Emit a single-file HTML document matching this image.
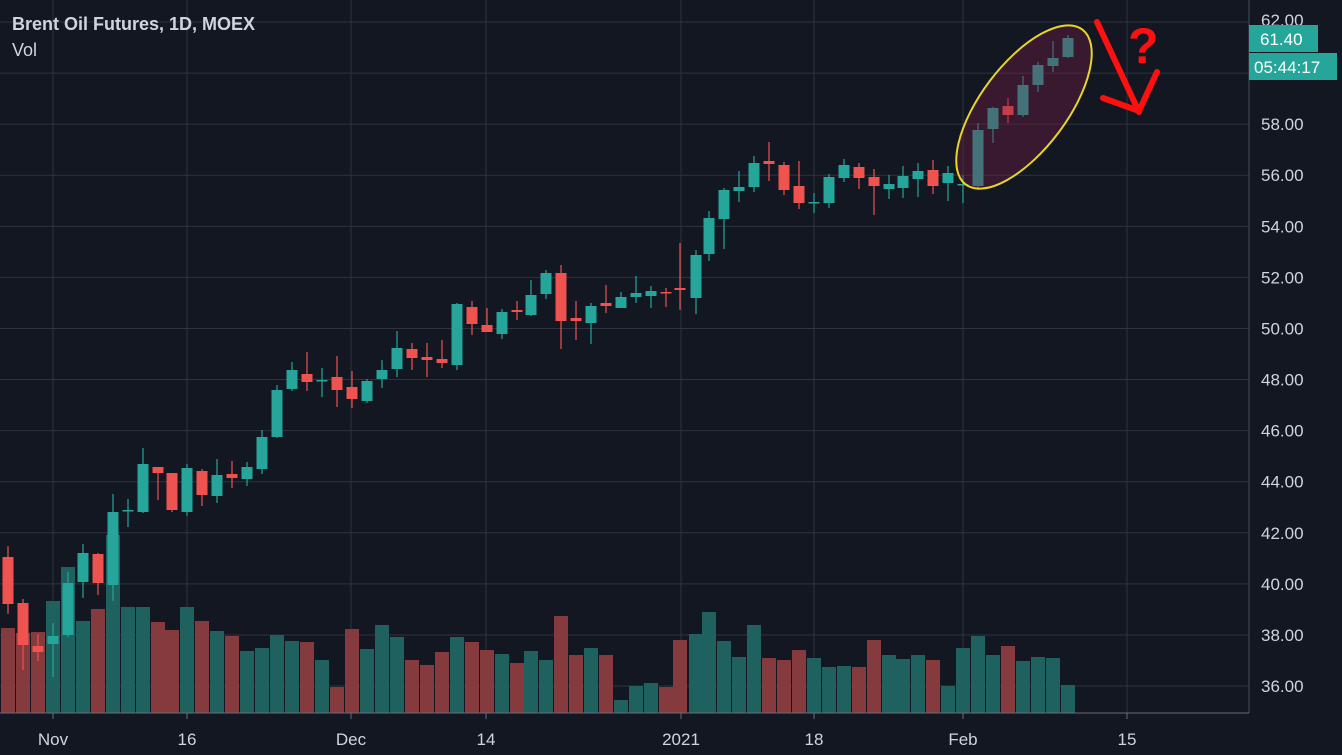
<!DOCTYPE html>
<html><head><meta charset="utf-8"><style>
html,body{margin:0;padding:0;background:#131722;width:1342px;height:755px;overflow:hidden}
svg{display:block}
text{font-family:"Liberation Sans",sans-serif}
</style></head><body>
<svg id="s" width="1342" height="755" viewBox="0 0 1342 755" xmlns="http://www.w3.org/2000/svg">
<rect width="1342" height="755" fill="#131722"/>
<g id="grid" stroke="#2f333e" stroke-width="1"></g>
<g id="vol"></g>
<g id="cd"></g>
<ellipse cx="1024" cy="107" rx="97" ry="43" transform="rotate(-53 1024 107)" fill="rgba(120,28,68,0.38)" stroke="#e6d52c" stroke-width="2"/>
<line x1="1249" y1="0" x2="1249" y2="713" stroke="#4a4e59"/>
<line x1="0" y1="713" x2="1249" y2="713" stroke="#6a6e79"/>
<g id="ax" fill="#d1d4dc" font-size="17"></g>
<text x="12" y="30" fill="#d1d4dc" font-size="18" font-weight="bold">Brent Oil Futures, 1D, MOEX</text>
<text x="12" y="56" fill="#d1d4dc" font-size="18">Vol</text>
<polyline points="1097,22 1139,112" stroke="#ff1010" stroke-width="6" fill="none" stroke-linecap="round"/>
<polyline points="1103,98 1139,111 1157,72" stroke="#ff1010" stroke-width="6" fill="none" stroke-linecap="round" stroke-linejoin="miter"/>
<text x="1128" y="63" fill="#ff1010" font-size="50" font-weight="bold">?</text>
<rect x="1249" y="25" width="69" height="27" fill="#26a69a"/>
<text x="1260" y="45" fill="#fff" font-size="17">61.40</text>
<rect x="1249" y="53" width="88" height="27" fill="#26a69a"/>
<text x="1254" y="73" fill="#fff" font-size="17">05:44:17</text>
</svg>
<script>
const NS="http://www.w3.org/2000/svg";
function el(p,t,a){const e=document.createElementNS(NS,t);for(const k in a)e.setAttribute(k,a[k]);p.appendChild(e);return e;}
const g=document.getElementById('grid'),ax=document.getElementById('ax');
for(let k=0;k<=13;k++){const y=22+k*51.08;el(g,'line',{x1:0,x2:1249,y1:y,y2:y});
 const p=(62-2*k).toFixed(2);if(k>0&&k<=13){const t=el(ax,'text',{x:1261,y:y+6});t.textContent=p;}}
const t0=el(ax,'text',{x:1261,y:26});t0.textContent="62.00";
const vx=[[53,"Nov"],[187,"16"],[351,"Dec"],[486,"14"],[681,"2021"],[814,"18"],[963,"Feb"],[1127,"15"]];
vx.forEach(([x,l])=>{el(g,'line',{x1:x,x2:x,y1:0,y2:713});el(ax,'line',{x1:x,x2:x,y1:713,y2:719,stroke:"#6a6e79"});
 const t=el(ax,'text',{x:x,y:745,"text-anchor":"middle"});t.textContent=l;});
const C=`8 557 604 546 614 r,23 603 645 599 670 r,38 646 652 634 661 r,53 636 644 623 677 g,68 583 635 572 637 g,83 553 582 544 598 g,98 554 583 553 595 r,113 512 585 494 601 g,128 510 511 499 527 g,143 464 512 448 513 g,158 467 473 467 500 r,172 473 510 473 512 r,187 468 512 464 516 g,202 471 495 469 506 r,217 475 496 459 503 g,232 474 478 461 488 r,247 467 479 462 486 g,262 437 469 430 474 g,277 390 437 385 438 g,292 370 389 362 391 g,307 374 382 352 391 r,322 380 381 368 397 g,337 377 390 356 407 r,352 387 399 371 408 r,367 381 401 379 403 g,382 370 379 360 388 g,397 348 369 331 377 g,412 349 358 343 370 r,427 357 360 343 377 r,442 359 363 340 368 r,457 304 365 303 370 g,472 307 324 301 335 r,487 325 332 308 332 r,502 312 334 309 339 g,517 310 312 301 320 r,531 295 315 280 316 g,546 273 294 270 299 g,561 273 321 265 349 r,576 318 321 301 340 r,591 306 323 303 344 g,606 303 306 285 313 r,621 297 308 292 308 g,636 293 297 276 303 g,651 291 296 286 308 g,666 292 293 288 307 r,680 288 290 243 310 r,696 255 298 250 314 g,709 218 254 211 261 g,724 190 219 188 249 g,739 187 191 171 202 g,754 163 187 156 192 g,769 161 164 142 181 r,784 165 190 162 195 r,799 186 203 161 209 r,814 202 203 193 213 g,829 177 203 174 208 g,844 165 178 159 182 g,859 167 178 163 189 r,874 177 186 169 215 r,889 184 189 175 199 g,903 176 188 166 198 g,918 171 179 163 197 g,933 170 186 160 194 r,948 173 183 166 201 g,963 184 185 175 203 g,978 130 186 123 190 g,993 108 129 107 143 g,1008 106 115 98 123 r,1023 85 115 76 117 g,1038 65 85 62 92 g,1053 58 66 41 72 g,1068 38 57 35 58 g`;
const V=`628 633 632 601 567 621 609 535 607 607 622 630 607 621 631 636 651 648 635 641 642 660 687 629 649 625 637 660 665 652 637 642 650 654 663 651 660 616 655 648 655 700 686 683 687 640 634 612 641 657 625 658 660 650 658 667 666 667 640 655 659 655 660 686 648 636 655 646 661 657 658 685`.split(' ').map(Number);
const cd=document.getElementById('cd'),vg=document.getElementById('vol');
C.split(',').forEach((s,i)=>{const a=s.trim().split(' ');const x=+a[0],t=+a[1],b=+a[2],h=+a[3],l=+a[4],c=a[5]=='g'?'#26a69a':'#ef5350';
 const vc=a[5]=='g'?'#1f615e':'#853a3d';
 el(vg,'rect',{x:x-7,y:V[i],width:14,height:713-V[i],fill:vc});
 el(cd,'line',{x1:x,x2:x,y1:h,y2:l,stroke:c,"stroke-width":1.2});
 el(cd,'rect',{x:x-5.5,y:t,width:11,height:Math.max(1.5,b-t),fill:c});});
</script>
</body></html>
